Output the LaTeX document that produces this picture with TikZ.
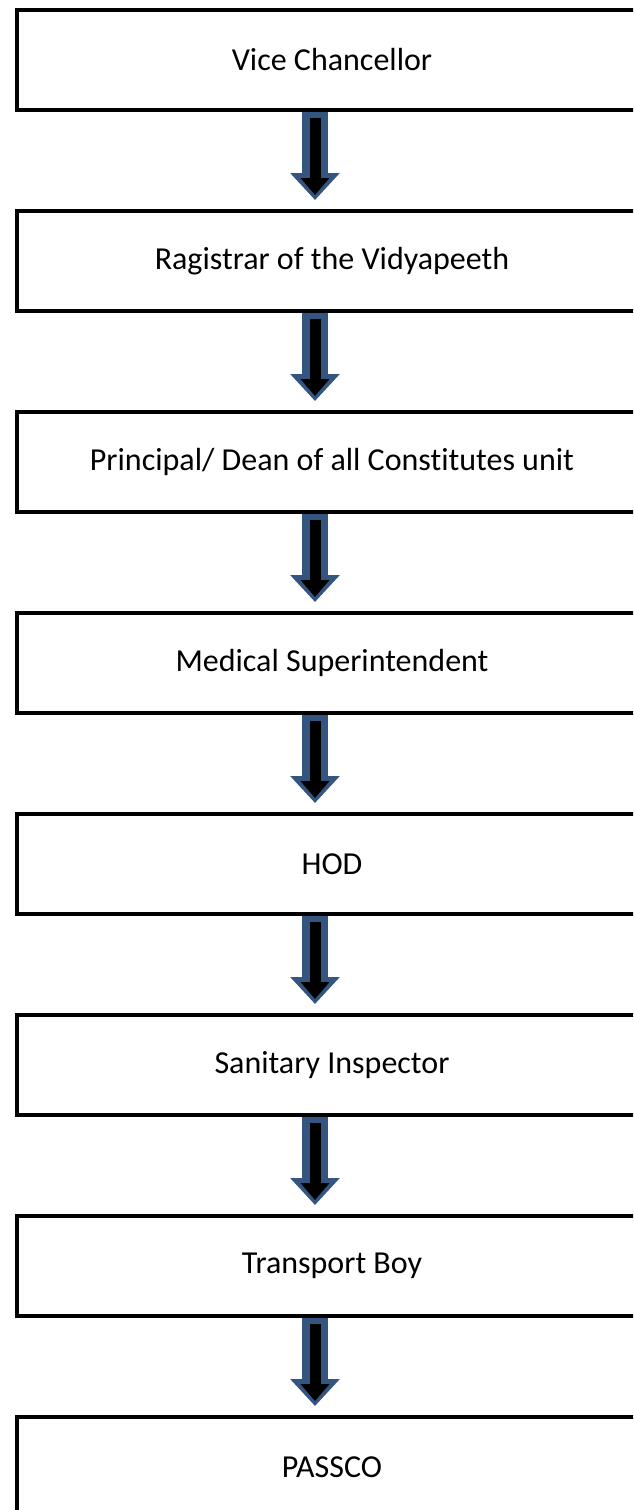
\documentclass[tikz,border=0pt]{standalone}
\usepackage{fontspec}
\setmainfont[Ligatures=NoCommon]{Carlito}
\usetikzlibrary{arrows.meta}
\definecolor{arrowblue}{HTML}{34557F}
\tikzset{
  post/.style={draw,line width=4pt,minimum width=630pt,minimum height=100pt,
    anchor=west,inner sep=0pt,font=\fontsize{32}{37}\selectfont},
  shaftout/.style={arrowblue,line width=26pt,shorten >=9pt,
    -{Triangle[width=48pt,length=27pt]}},
  shaftin/.style={black,line width=11pt,shorten <=6pt,shorten >=14pt,
    -{Triangle[width=28pt,length=17pt]}}
}
\begin{document}
\begin{tikzpicture}[x=1pt,y=1pt]
  \useasboundingbox (0,0) rectangle (633,-1510);
  \clip (0,0) rectangle (633,-1510);
  \fill[white] (0,0) rectangle (633,-1510);
  \coordinate (axis) at (315,0);
  \foreach \i/\t in {1/Vice Chancellor,2/Ragistrar of the Vidyapeeth,
      3/{Principal/ Dean of all Constitutes unit},4/Medical Superintendent,
      5/HOD,6/Sanitary Inspector,7/Transport Boy,8/PASSCO}{
    \node[post] (b\i) at (15,{-60-201*(\i-1)}) {\t};}
  \foreach \i/\j in {1/2,2/3,3/4,4/5,5/6,6/7,7/8}{
    \draw[shaftout] (b\i.south -| axis) -- (b\j.north -| axis);
    \draw[shaftin] (b\i.south -| axis) -- (b\j.north -| axis);}
\end{tikzpicture}
\end{document}
